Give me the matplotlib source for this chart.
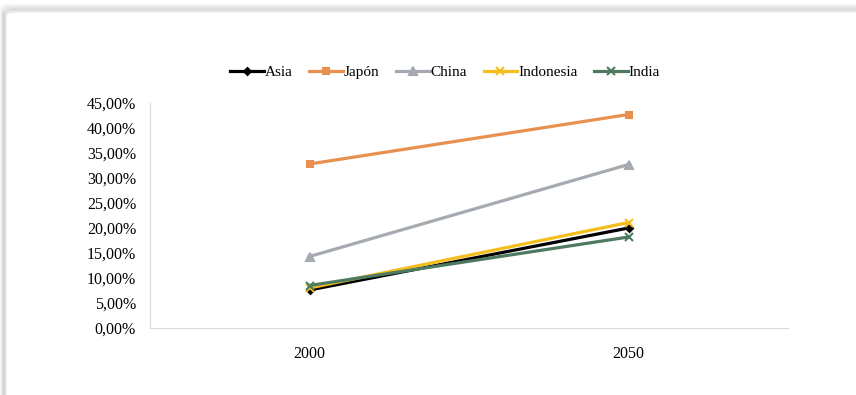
import matplotlib
matplotlib.use("Agg")
import matplotlib.pyplot as plt
from matplotlib.patches import FancyBboxPatch
from matplotlib.ticker import FuncFormatter

categories = ["2000", "2050"]
series_names = ["Asia", "Japón", "China", "Indonesia", "India"]
asia = [0.076, 0.200]
japon = [0.328, 0.427]
china = [0.143, 0.327]
indonesia = [0.080, 0.211]
india = [0.085, 0.182]

colors = ["#000000", "#E8904F", "#A5AAB0", "#F5BE1E", "#4E7A62"]
markers = ["D", "s", "^", "x", "x"]
msizes = [3.5, 4.5, 5.5, 5.5, 5.5]

plt.rcParams['font.family'] = ['Liberation Serif', 'DejaVu Serif']

fig = plt.figure(figsize=(8.56, 3.95), dpi=100)
fig.patch.set_facecolor("white")

# card shadow
W, H = 856, 395
for i, a in enumerate([0.02, 0.03, 0.04, 0.05, 0.06, 0.07]):
    off = 6 - i
    p = FancyBboxPatch(((6 - off * 0.8) / W, -0.1), 1.2, (H - 12 + off * 1.2) / H + 0.1,
                       boxstyle="round,pad=0,rounding_size=0.01", transform=fig.transFigure,
                       facecolor="none", edgecolor=(0, 0, 0, a), linewidth=2, zorder=-10)
    fig.patches.append(p)
card = FancyBboxPatch((6 / W, -0.1), 1.2, (H - 12) / H + 0.1,
                      boxstyle="round,pad=0,rounding_size=0.01", transform=fig.transFigure,
                      facecolor="white", edgecolor="#e6e6e6", linewidth=0.8, zorder=-9)
fig.patches.append(card)

ax = fig.add_axes([150 / W, 1 - 328 / H, (788 - 150) / W, (328 - 103) / H])
ax.set_zorder(5)
ax.set_facecolor("none")
x = [0, 1]
data = [asia, japon, china, indonesia, india]
for name, vals, c, m, ms in zip(series_names, data, colors, markers, msizes):
    ax.plot(x, vals, color=c, marker=m, markersize=ms, linewidth=2.3, label=name,
            markeredgewidth=1.5)

ax.set_xlim(-0.5, 1.5)
ax.set_ylim(0, 0.45)
ax.set_yticks([i * 0.05 for i in range(10)])
ax.yaxis.set_major_formatter(FuncFormatter(lambda v, p: f"{v*100:.2f}%".replace(".", ",")))
ax.set_xticks(x)
ax.set_xticklabels(categories)
for s in ["top", "right"]:
    ax.spines[s].set_visible(False)
ax.spines["left"].set_color("#d9d9d9")
ax.spines["bottom"].set_color("#d9d9d9")
ax.tick_params(axis="both", length=0, labelsize=11.5, colors="#000000")
ax.tick_params(axis="y", pad=10)
ax.tick_params(axis="x", pad=13)

leg = fig.legend(loc="center", bbox_to_anchor=(445 / W, 1 - 72 / H), ncol=5, frameon=False,
                 fontsize=11, handlelength=2.2, columnspacing=1.1, handletextpad=0.05)
leg.set_zorder(6)

fig.savefig("out.png", dpi=100)
